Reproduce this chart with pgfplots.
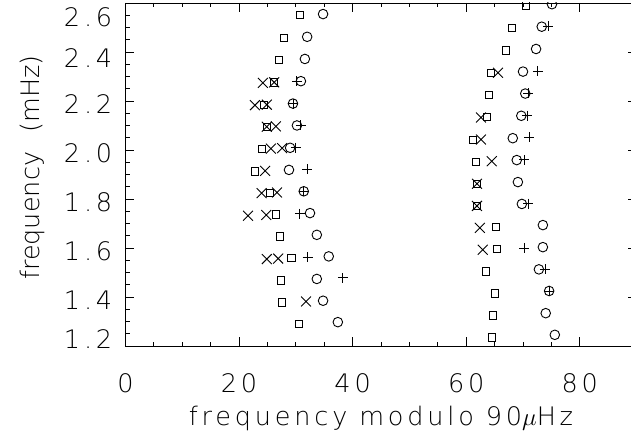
\documentclass[border=0pt]{standalone}
\usepackage{pgfplots}
\pgfplotsset{compat=1.18}
\usepackage{fontspec}
\newfontfamily\hfont{DejaVu Sans ExtraLight}[LetterSpace=15]
\newfontfamily\hfontn{DejaVu Sans ExtraLight}
\newcommand\lblfont{\hfont\fontsize{25.5}{30}\selectfont}
\newcommand\ylblfont{\hfontn\fontsize{25.5}{30}\selectfont}

\begin{document}
\begin{tikzpicture}
\begin{scope}
\clip (-125.4pt,-96pt) rectangle (505.6pt,346pt);
\begin{axis}[
    at={(0pt,0pt)}, anchor=south west,
    scale only axis, width=511.2pt, height=343pt,
    xmin=0, xmax=90, ymin=1.2, ymax=2.6,
    xtick={0,20,40,60,80},
    xticklabels={0,20,40,60,80},
    ytick={1.2,1.4,1.6,1.8,2.0,2.2,2.4,2.6},
    yticklabels={{\raisebox{10pt}[\height][\depth]{1.2}},1.4,1.6,1.8,2.0,2.2,{\raisebox{-3pt}[\height][\depth]{2.4}},{\raisebox{-11pt}[\height][\depth]{2.6}}},
    minor x tick num=3, minor y tick num=3,
    major tick length=9pt, minor tick length=4.5pt,
    axis line style={line width=0.9pt},
    every tick/.style={black, line width=0.9pt},
    tick label style={font=\lblfont},
    xticklabel style={anchor=base, yshift=-46.5pt, inner sep=0pt},
    yticklabel style={anchor=east, xshift=-13pt, yshift=-3pt, inner sep=0pt},
    label style={font=\lblfont},
    xlabel={frequency modulo 90$\mu$Hz},
    xlabel style={at={(axis description cs:0.5,-0.2332)}, anchor=base, inner sep=0pt},
    ylabel={frequency\hspace{0.75em}(mHz)},
    ylabel style={font=\ylblfont, at={(axis description cs:-0.169,0.52)}, anchor=base, inner sep=0pt},
    clip marker paths=true,
]

% squares
\addplot[only marks, black, mark=square, mark size=3.7pt, mark options={line width=0.9pt}] coordinates {
(30.7,2.5507) (27.9,2.4579) (27.0,2.3670) (26.2,2.2762) (24.4,2.1844)
(24.9,2.0949) (24.0,2.0040) (22.8,1.9128) (25.5,1.8255) (26.5,1.7365)
(27.2,1.6472) (29.2,1.5592) (27.4,1.4674) (27.6,1.3776) (30.6,1.2906)
(70.5,2.5905) (68.1,2.4981) (67.0,2.4070) (64.4,2.3144) (64.0,2.2240)
(63.7,2.1337) (61.2,2.0412) (61.7,1.9517) (61.9,1.8619) (61.9,1.7719)
(65.2,1.6852) (65.4,1.5954) (63.5,1.5035) (65.1,1.4151) (64.7,1.3247)
(64.5,1.2345)
};

% circles
\addplot[only marks, black, mark=o, mark size=4.8pt, mark options={line width=0.9pt}] coordinates {
(34.8,2.5548) (32.0,2.4620) (31.6,2.3716) (30.9,2.2809) (29.5,2.1895)
(30.2,2.1002) (29.0,2.0090) (28.8,1.9188) (31.4,1.8314) (32.5,1.7425)
(33.7,1.6537) (35.8,1.5658) (33.7,1.4737) (34.8,1.3848) (37.4,1.2974)
(75.1,2.5951) (73.3,2.5033) (72.3,2.4123) (70.0,2.3200) (70.4,2.2304)
(69.7,2.1397) (68.2,2.0482) (68.9,1.9589) (69.1,1.8691) (69.8,1.7798)
(73.5,1.6935) (73.5,1.6035) (72.8,1.5128) (74.6,1.4246) (74.0,1.3340)
(75.6,1.2456)
};

% plus
\addplot[only marks, black, mark=+, mark size=5pt, mark options={line width=0.9pt}] coordinates {
(30.2,2.2802) (29.5,2.1895) (30.9,2.1009) (30.0,2.0100) (32.0,1.9220)
(31.4,1.8314) (30.7,1.7407) (32.1,1.5621) (38.3,1.4783)
(74.4,2.5044) (72.6,2.3226) (70.9,2.2309) (70.7,2.1407) (71.1,2.0511)
(70.2,1.9602) (70.9,1.7809) (70.2,1.6002) (73.9,1.5139) (74.6,1.4246)
};

% crosses
\addplot[only marks, black, mark=x, mark size=7pt, mark options={line width=0.9pt}] coordinates {
(24.2,2.2742) (26.2,2.2762) (22.8,2.1828) (24.9,2.1849) (24.9,2.0949)
(26.5,2.0965) (25.6,2.0056) (27.6,2.0076) (24.6,1.9146) (24.0,1.8240)
(26.7,1.8267) (21.6,1.7316) (24.8,1.7348) (24.9,1.5549) (26.9,1.5569)
(31.8,1.3818)
(65.6,2.3156) (62.6,2.1326) (62.6,2.0426) (64.5,1.9545) (61.9,1.8619)
(61.9,1.7719) (62.4,1.6824) (62.9,1.5929)
};

\end{axis}
\end{scope}
\pgfresetboundingbox
\path[use as bounding box] (-125.4pt,-96pt) rectangle (505.6pt,346pt);
\end{tikzpicture}
\end{document}
